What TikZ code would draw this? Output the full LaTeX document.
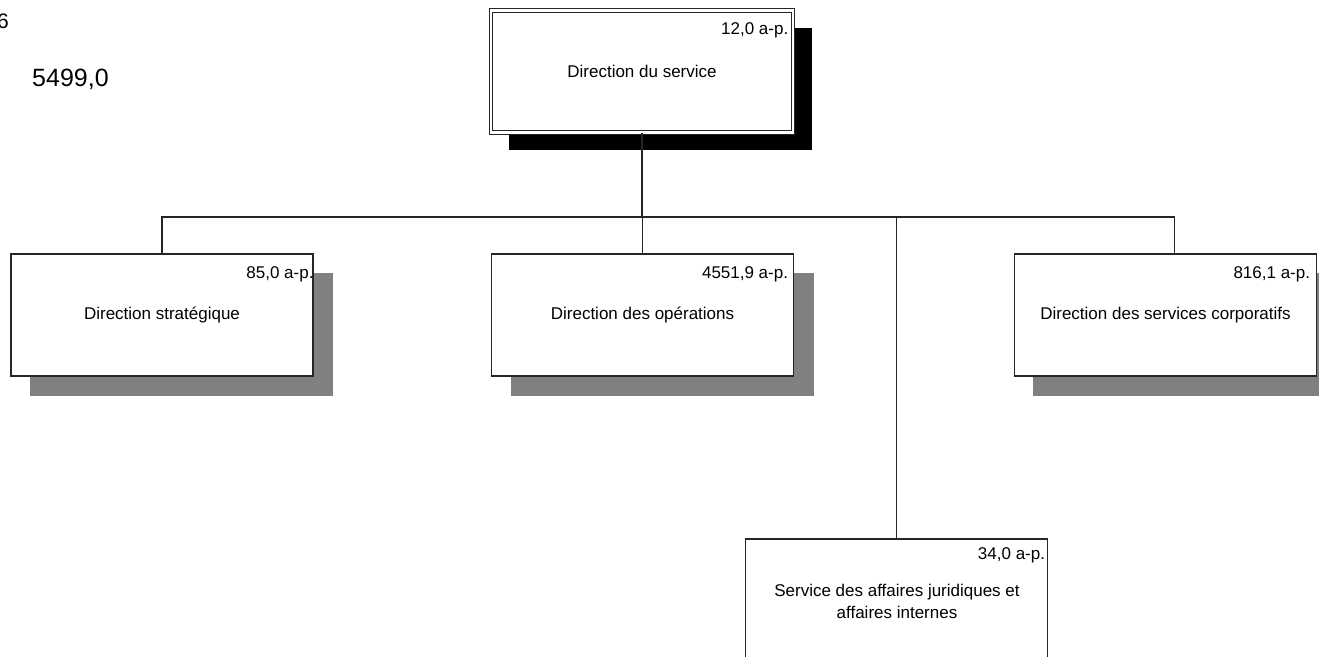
\documentclass[tikz,border=0pt]{standalone}
\usepackage{fontspec}
\setmainfont{Liberation Sans}
\definecolor{shadowgray}{HTML}{808080}
\tikzset{
  unitbox/.style={draw=black!85, line width=1.5pt, fill=white, minimum width=302pt, minimum height=122pt, inner sep=0pt, font=\fontsize{17}{22}\selectfont, align=center},
  topbox/.style={unitbox, double=white, double distance=2.4pt, line width=1pt},
  amount/.style={anchor=base east, inner sep=0pt, font=\fontsize{17}{20}\selectfont},
  conn/.style={draw=black!85, line width=1.4pt},
  blackshadow/.style={fill=black},
  grayshadow/.style={fill=shadowgray}
}
\begin{document}
\begin{tikzpicture}[x=1pt,y=-1pt]
\useasboundingbox (0,0) rectangle (1319,656);
\clip (0,0) rectangle (1319,656);

% shadows (drawn first, boxes on top)
\fill[blackshadow] (509,28) rectangle (812,150);
\fill[grayshadow] (30,273) rectangle (333,396);
\fill[grayshadow] (511,273) rectangle (814,396);
\fill[grayshadow] (1033,273) rectangle (1336,396);

% nodes
\node[topbox] (top) at (642,71.5) {Direction du service};
\node[unitbox] (b1) at (162,315) {Direction stratégique};
\node[unitbox] (b2) at (642.5,315) {Direction des opérations};
\node[unitbox] (b3) at (1165.5,315) {Direction des services corporatifs};
\node[unitbox, anchor=north] (b4) at (896.5,538) {};

% box 4 text
\node[font=\fontsize{17}{22}\selectfont, align=center, inner sep=0pt] (t4) at (897,601) {Service des affaires juridiques et\\affaires internes};

% amounts
\node[amount] (a0) at ([shift={(-5,24)}]top.north east) {12,0 a-p.};
\node[amount] (a1) at ([shift={(0,25)}]b1.north east) {85,0 a-p.};
\node[amount] (a2) at ([shift={(-6,25)}]b2.north east) {4551,9 a-p.};
\node[amount] (a3) at ([shift={(-7,25)}]b3.north east) {816,1 a-p.};
\node[amount] (a4) at ([shift={(-3,21)}]b4.north east) {34,0 a-p.};

% left texts
\node[anchor=base west, inner sep=0pt, font=\fontsize{25}{28}\selectfont] (total) at (32,86) {5499,0};
\node[anchor=base east, inner sep=0pt, font=\fontsize{21}{24}\selectfont] (six) at (9,28) {6};

% connectors
\coordinate (bus) at (642,217);
\coordinate (b3c) at ([xshift=9]b3.north);
\draw[conn] (top.south) -- (top.south |- bus);
\draw[conn] (b1.north) -- (b1.north |- bus) -- (b3c |- bus) -- (b3c);
\draw[conn] (b2.north) -- (b2.north |- bus);
\draw[conn] (b4.north) -- (b4.north |- bus);
\end{tikzpicture}
\end{document}
